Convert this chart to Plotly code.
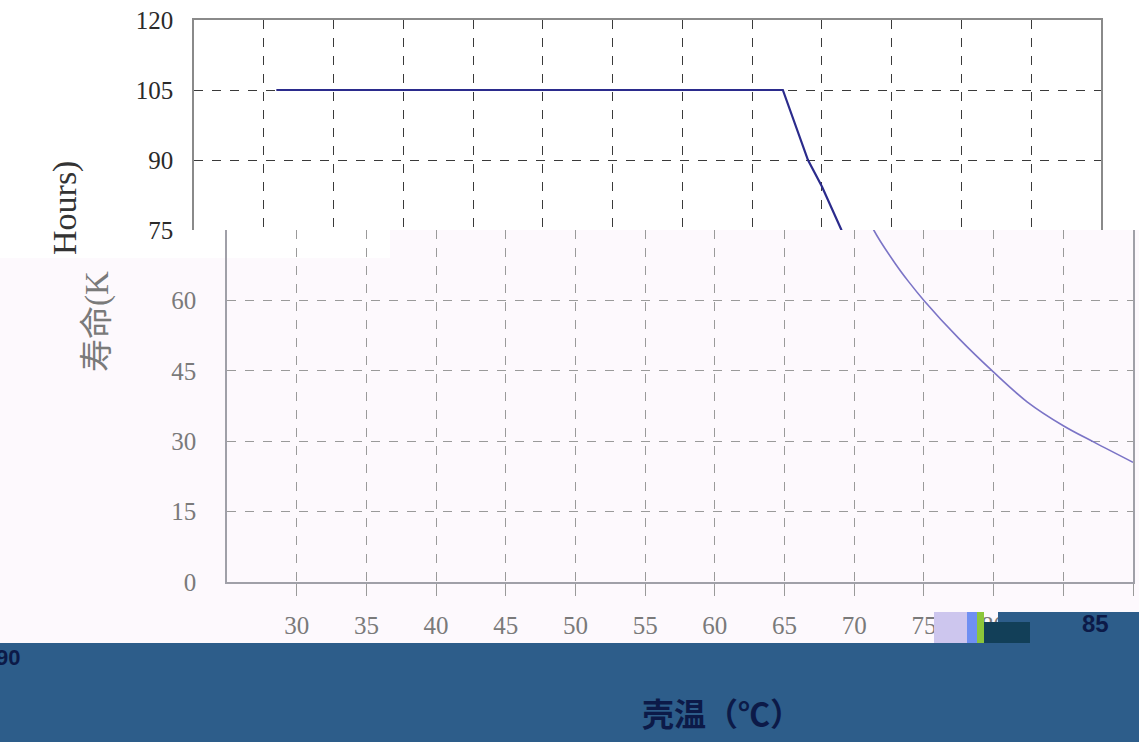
import plotly.graph_objects as go

# ---- data ----
temp = [30.9, 67.2, 69.0, 70.0, 71.4, 73.0, 73.9, 75, 77.5, 80, 82.4, 85, 87.2, 90]
life = [105, 105, 90, 84.3, 75, 67.6, 64.0, 60, 51.9, 44.7, 38.4, 33.3, 29.8, 25.5]

x_ticks = [30, 35, 40, 45, 50, 55, 60, 65, 70, 75, 80, 85, 90]
x_tick_labels = ["30", "35", "40", "45", "50", "55", "60", "65", "70", "75", "80", "85", "90"]
y_ticks_upper = [75, 90, 105, 120]
y_ticks_lower = [0, 15, 30, 45, 60, 75]
y_tick_labels_lower = ["0", "15", "30", "45", "60", ""]

x_title = "壳温（℃）"
y_title_upper = "Hours)"
y_title_lower = "寿命(K"

W, H = 1139, 742


def px(x):
    return x / W


def py(y):
    return 1 - y / H


SERIF = "Liberation Serif, DejaVu Serif, Noto Sans CJK SC, serif"
CJK = "Liberation Serif, Noto Sans CJK SC, serif"

fig = go.Figure()

# upper (crisp) part of the chart
fig.add_trace(go.Scatter(x=temp, y=life, mode="lines", xaxis="x", yaxis="y",
                         line=dict(color="#2b2b8c", width=2.2), showlegend=False,
                         hoverinfo="skip"))
# lower (faded, shifted) part of the chart
fig.add_trace(go.Scatter(x=temp, y=life, mode="lines", xaxis="x2", yaxis="y2",
                         line=dict(color="#7b74c6", width=1.6, shape="spline", smoothing=1.0),
                         showlegend=False, hoverinfo="skip"))

grid_dark = "#3a3a3a"
grid_light = "#9a9a9a"

fig.update_layout(
    width=W, height=H, autosize=False,
    margin=dict(l=0, r=0, t=0, b=0, pad=0),
    paper_bgcolor="white",
    plot_bgcolor="rgba(0,0,0,0)",
    showlegend=False,
    xaxis=dict(domain=[px(194), px(1101)], range=[25, 90], anchor="y", automargin=False,
               side="top", tickvals=x_ticks, showticklabels=False, ticks="",
               showgrid=True, gridcolor=grid_dark, griddash="dash", gridwidth=1,
               showline=True, linecolor="#8a8a8a", linewidth=1.5,
               zeroline=False, fixedrange=True),
    yaxis=dict(domain=[py(230), py(20)], range=[75, 120], anchor="x", automargin=False,
               tickvals=y_ticks_upper, ticks="",
               tickfont=dict(family=SERIF, size=25, color="#2a2a2a"),
               ticklabelstandoff=14,
               showgrid=True, gridcolor=grid_dark, griddash="dash", gridwidth=1,
               showline=True, mirror=True, linecolor="#8a8a8a", linewidth=1.5,
               zeroline=False, fixedrange=True),
    xaxis2=dict(domain=[px(227), px(1133)], range=[25, 90], anchor="y2", automargin=False,
                tickvals=x_ticks, ticktext=x_tick_labels,
                ticks="outside", ticklen=12, tickcolor=grid_light, tickwidth=1.2,
                tickfont=dict(family=SERIF, size=25, color="#7a7a7a"),
                ticklabelstandoff=8,
                showgrid=True, gridcolor=grid_light, griddash="dash", gridwidth=1,
                showline=True, linecolor="#a0a0a8", linewidth=1.5,
                zeroline=False, fixedrange=True),
    yaxis2=dict(domain=[py(582), py(230)], range=[0, 75], anchor="x2", automargin=False,
                tickvals=y_ticks_lower, ticktext=y_tick_labels_lower, ticks="",
                tickfont=dict(family=SERIF, size=25, color="#7a7a7a"),
                ticklabelstandoff=24,
                showgrid=True, gridcolor=grid_light, griddash="dash", gridwidth=1,
                showline=True, mirror=True, linecolor="#a0a0a8", linewidth=1.5,
                zeroline=False, fixedrange=True),
)

shapes = [
    # faded lower background
    dict(type="rect", xref="paper", yref="paper", x0=px(0), x1=px(390), y0=py(643), y1=py(258),
         fillcolor="#fdf9fd", line=dict(width=0), layer="below"),
    dict(type="rect", xref="paper", yref="paper", x0=px(390), x1=px(1139), y0=py(643), y1=py(230),
         fillcolor="#fdf9fd", line=dict(width=0), layer="below"),
    # dark blue band at the bottom
    dict(type="rect", xref="paper", yref="paper", x0=0, x1=1, y0=0, y1=py(643),
         fillcolor="#2d5d8a", line=dict(width=0), layer="above"),
    dict(type="rect", xref="paper", yref="paper", x0=px(998), x1=1, y0=py(643), y1=py(612),
         fillcolor="#2d5d8a", line=dict(width=0), layer="above"),
    # glitch blocks
    dict(type="rect", xref="paper", yref="paper", x0=px(934), x1=px(967), y0=py(643), y1=py(612),
         fillcolor="#cdc6ee", line=dict(width=0), layer="above"),
    dict(type="rect", xref="paper", yref="paper", x0=px(967), x1=px(977), y0=py(643), y1=py(612),
         fillcolor="#6f8ff2", line=dict(width=0), layer="above"),
    dict(type="rect", xref="paper", yref="paper", x0=px(977), x1=px(984), y0=py(643), y1=py(612),
         fillcolor="#8cc63a", line=dict(width=0), layer="above"),
    dict(type="rect", xref="paper", yref="paper", x0=px(984), x1=px(1030), y0=py(643), y1=py(622),
         fillcolor="#123f58", line=dict(width=0), layer="above"),
]
fig.update_layout(shapes=shapes)

annotations = [
    dict(text=y_title_upper, xref="paper", yref="paper", x=px(65), y=py(208),
         textangle=-90, showarrow=False, xanchor="center", yanchor="middle",
         font=dict(family=CJK, size=34, color="#333333")),
    dict(text=y_title_lower, xref="paper", yref="paper", x=px(97), y=py(322),
         textangle=-90, showarrow=False, xanchor="center", yanchor="middle",
         font=dict(family=CJK, size=33, color="#7a7a7a")),
    dict(text="<b>" + x_title + "</b>", xref="paper", yref="paper", x=px(722), y=py(712),
         showarrow=False, xanchor="center", yanchor="middle",
         font=dict(family="Noto Sans CJK SC, sans-serif", size=32, color="#0c1a48")),
    dict(text="<b>85</b>", xref="paper", yref="paper", x=px(1095), y=py(623),
         showarrow=False, xanchor="center", yanchor="middle",
         font=dict(family="Liberation Sans, Arial, sans-serif", size=24, color="#0c1a48")),
    dict(text="<b>90</b>", xref="paper", yref="paper", x=px(22), y=py(657),
         showarrow=False, xanchor="right", yanchor="middle",
         font=dict(family="Liberation Sans, Arial, sans-serif", size=22, color="#0c1a48")),
]
fig.update_layout(annotations=annotations)

fig.write_html("out.html", config={"displayModeBar": False},
               post_script="document.body.style.margin='0px';")
